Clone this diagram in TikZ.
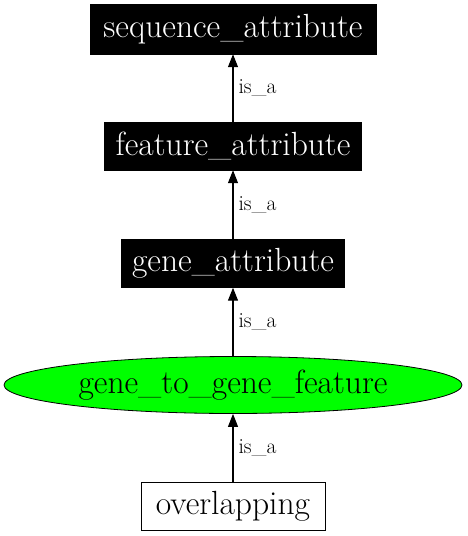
\documentclass[tikz,border=0pt]{standalone}
\usetikzlibrary{arrows.meta,shapes.geometric}
\begin{document}
\begin{tikzpicture}[x=1pt,y=-1pt,
  nodefont/.style={font=\rmfamily\fontsize{33.5}{40}\selectfont},
  blackbox/.style={nodefont,draw=black,fill=black,text=white,inner sep=0pt},
  whitebox/.style={nodefont,draw=black,fill=white,text=black,inner sep=0pt,line width=1pt},
  greenell/.style={nodefont,ellipse,draw=black,fill=green,inner sep=0pt,line width=0.8pt},
  isa/.style={-{Triangle[length=13pt,width=10pt]},line width=1.1pt},
  lbl/.style={font=\rmfamily\fontsize{21.5}{26}\selectfont,anchor=west,inner sep=0pt}]
\useasboundingbox (0,0) rectangle (467,536);
\node[blackbox,minimum width=286pt,minimum height=50pt] (seq) at (233,29) {sequence\_attribute};
\node[blackbox,minimum width=257pt,minimum height=48pt] (feat) at (233,146) {feature\_attribute};
\node[blackbox,minimum width=223pt,minimum height=48pt] (gene) at (233,263.5) {gene\_attribute};
\node[greenell,minimum width=458pt,minimum height=57pt] (g2g) at (233,385) {gene\_to\_gene\_feature};
\node[whitebox,minimum width=184pt,minimum height=48pt] (ovl) at (233,506.7) {overlapping};
\draw[isa] (feat) -- node[lbl,xshift=5pt] (l1) {is\_a} (seq);
\draw[isa] (gene) -- node[lbl,xshift=5pt] (l2) {is\_a} (feat);
\draw[isa] (g2g) -- node[lbl,xshift=5pt] (l3) {is\_a} (gene);
\draw[isa] (ovl) -- node[lbl,xshift=5pt] (l4) {is\_a} (g2g);
\end{tikzpicture}
\end{document}
